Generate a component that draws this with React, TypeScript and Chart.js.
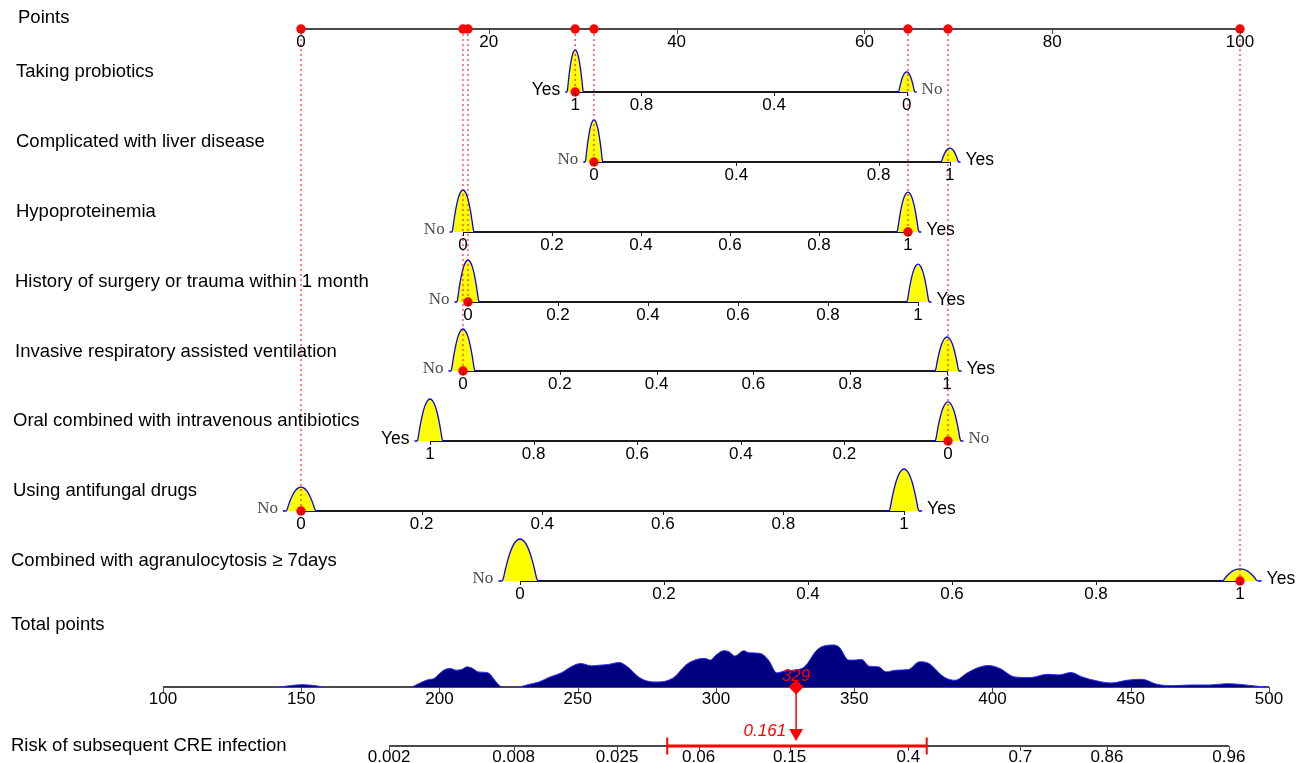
import React, { useEffect, useRef } from "react";
import { Chart, registerables } from "chart.js";

Chart.register(...registerables);

// ---------------- data ----------------
const POINT_TICKS = [0, 20, 40, 60, 80, 100];

const VARIABLES = [
  "Taking probiotics",
  "Complicated with liver disease",
  "Hypoproteinemia",
  "History of surgery or trauma within 1 month",
  "Invasive respiratory assisted ventilation",
  "Oral combined with intravenous antibiotics",
  "Using antifungal drugs",
  "Combined with agranulocytosis \u2265 7days",
];
// points contributed by level 0 (No) and level 1 (Yes)
const POINTS_AT_0 = [64.5, 31.2, 17.25, 17.78, 17.25, 68.9, 0, 23.32];
const POINTS_AT_1 = [29.2, 69.1, 64.64, 65.71, 68.8, 13.74, 64.22, 100];
const VAR_TICKS = [
  [1, 0.8, 0.4, 0],
  [0, 0.4, 0.8, 1],
  [0, 0.2, 0.4, 0.6, 0.8, 1],
  [0, 0.2, 0.4, 0.6, 0.8, 1],
  [0, 0.2, 0.4, 0.6, 0.8, 1],
  [1, 0.8, 0.6, 0.4, 0.2, 0],
  [0, 0.2, 0.4, 0.6, 0.8, 1],
  [0, 0.2, 0.4, 0.6, 0.8, 1],
];
const LEVEL_NAMES = ["No", "Yes"];
const SELECTED = [1, 0, 1, 0, 0, 0, 0, 1];
// relative density height of each level
const DENSITY_0 = [0.48, 1, 1, 1, 1, 0.93, 0.57, 1];
const DENSITY_1 = [1, 0.33, 0.95, 0.9, 0.81, 1, 1, 0.29];

const TOTAL_TICKS = [100, 150, 200, 250, 300, 350, 400, 450, 500];
const TOTAL_T = [
  142, 146, 150, 154, 158,
  190, 193, 196, 198, 200, 202, 204, 206, 208, 210, 212, 214, 216, 218, 220, 222, 223,
  229, 232, 236, 240, 244, 248, 251, 255, 258, 261, 265, 268, 272, 275, 279, 282, 285, 289,
  293, 296, 298, 300, 302.7, 304.7, 306.8, 310, 312, 316, 319, 322, 325, 328, 332, 336.5,
  339, 342.6, 344.6, 348, 350, 352.7, 355.4, 358.8, 361.5, 365, 369.6, 373.6, 377, 382.4,
  386.5, 390.5, 394.6, 398.6, 402.7, 408, 413.5, 420, 424, 428.4, 432.4, 437.8, 443, 448.6,
  454, 459.5, 465, 471.6, 478.4, 485, 490.5, 496, 499,
];
const TOTAL_D = [
  0, 4, 7, 5, 0,
  0, 12, 22, 25, 40, 52, 55, 50, 52, 60, 55, 45, 44, 40, 20, 2, 0,
  0, 7, 15, 30, 42, 62, 70, 63, 65, 67, 73, 60, 30, 18, 15, 18, 30, 65,
  82, 85, 80, 95, 108, 105, 92, 108, 102, 100, 80, 42, 48, 50, 60, 110,
  122, 125, 118, 80, 80, 82, 62, 60, 45, 50, 52, 75, 70, 30,
  20, 40, 57, 64, 55, 30, 28, 38, 36, 43, 30, 18, 12, 20,
  23, 8, 4, 6, 6, 10, 7, 2, 0,
];
const TOTAL_D_MAX = 125;

const RISK_TICKS = [0.002, 0.008, 0.025, 0.06, 0.15, 0.4, 0.7, 0.86, 0.96];
const RISK_TICK_LABELS = ["0.002", "0.008", "0.025", "0.06", "0.15", "0.4", "0.7", "0.86", "0.96"];
const PRED_RISK_LABEL = "0.161";
const CI_LOW = 0.043;
const CI_HIGH = 0.45;
// total points = RISK_A + RISK_B * logit(risk)
const RISK_A = 382.7;
const RISK_B = 32.34;

// ---------------- layout ----------------
const W = 1309;
const H = 763;
const POINTS_Y = 29;
const ROW_Y = [92, 162, 232, 302, 371, 441, 511, 581];
const TOTAL_Y = 687;
const RISK_Y = 746;
const LABEL_Y = [18, 72, 142, 212, 282, 352, 421, 491, 561, 625, 746];
const LABEL_X = [18, 16, 16, 16, 15, 15, 13, 13, 11, 11, 11];
const BUMP_PX = 42;
const TOTAL_PX = 42;
const BUMP_OFFSETS = [-0.03, -0.025, -0.023, -0.021, -0.018, -0.014, -0.01, -0.005, 0, 0.005, 0.01, 0.014, 0.018, 0.021, 0.023, 0.025, 0.03];
const BUMP_SHAPE = [0, 0, 0.07, 0.22, 0.43, 0.66, 0.83, 0.957, 1, 0.957, 0.83, 0.66, 0.43, 0.22, 0.07, 0, 0];
const BUMP_TAIL = 0.03;

const SANS = '"Liberation Sans", Arial, sans-serif';
const SERIF = '"Liberation Serif", "Times New Roman", serif';

const logit = (p: number) => Math.log(p / (1 - p));
const riskToTotal = (p: number) => RISK_A + RISK_B * logit(p);

const selectedPoints = SELECTED.map((l, i) => (l ? POINTS_AT_1[i] : POINTS_AT_0[i]));
const TOTAL_SCORE = selectedPoints.reduce((a, b) => a + b, 0);

function buildDatasets() {
  const ds: any[] = [];
  const line = (data: any[], color: string, width: number, extra: any = {}) => ({
    type: "line",
    data,
    borderColor: color,
    borderWidth: width,
    pointRadius: 0,
    fill: false,
    tension: 0,
    clip: false,
    order: 3,
    ...extra,
  });

  // points axis
  ds.push(line([{ x: 0, y: POINTS_Y }, { x: 100, y: POINTS_Y }], "#4a4a4a", 2));

  // variable rows
  VARIABLES.forEach((_, i) => {
    const p0 = POINTS_AT_0[i];
    const p1 = POINTS_AT_1[i];
    const y = ROW_Y[i];
    ds.push(line([{ x: Math.min(p0, p1), y }, { x: Math.max(p0, p1), y }], "#1a1a1a", 2));
    const span = Math.abs(p1 - p0);
    [0, 1].forEach((lvl) => {
      const c = lvl ? p1 : p0;
      const h = (lvl ? DENSITY_1[i] : DENSITY_0[i]) * BUMP_PX;
      const data = BUMP_OFFSETS.map((o, k) => ({ x: c + o * span, y: y - BUMP_SHAPE[k] * h }));
      ds.push(
        line(data, "#0000ff", 1.3, {
          backgroundColor: "#ffff00",
          fill: { value: y },
          cubicInterpolationMode: "monotone",
          order: 2,
        })
      );
    });
    // dotted guide
    ds.push(
      line([{ x: selectedPoints[i], y: POINTS_Y }, { x: selectedPoints[i], y }], "#ff0000", 1, {
        borderDash: [2, 3],
        order: 1,
      })
    );
  });

  // red dots
  const dots: any[] = [];
  selectedPoints.forEach((p, i) => {
    dots.push({ x: p, y: POINTS_Y });
    dots.push({ x: p, y: ROW_Y[i] });
  });
  ds.push({
    type: "line",
    data: dots,
    showLine: false,
    pointRadius: 4.7,
    pointBackgroundColor: "#ff0000",
    pointBorderColor: "#ff0000",
    pointBorderWidth: 0,
    clip: false,
    order: 0,
  });

  // total points axis + density
  ds.push(line([{ x: 100, y: TOTAL_Y }, { x: 500, y: TOTAL_Y }], "#4a4a4a", 2, { xAxisID: "xt" }));
  const segs: any[][] = [];
  let cur: any[] = [];
  TOTAL_T.forEach((t, i) => {
    if (cur.length && TOTAL_D[i] === 0 && TOTAL_D[i - 1] === 0) {
      segs.push(cur);
      cur = [];
    }
    cur.push({ x: t, y: TOTAL_Y - (TOTAL_D[i] / TOTAL_D_MAX) * TOTAL_PX });
  });
  segs.push(cur);
  segs.forEach((s) =>
    ds.push(
      line(s, "#2b2bff", 1, {
        xAxisID: "xt",
        backgroundColor: "#000080",
        fill: { value: TOTAL_Y },
        cubicInterpolationMode: "monotone",
        order: 2,
      })
    )
  );

  // risk axis
  const rMin = riskToTotal(RISK_TICKS[0]);
  const rMax = riskToTotal(RISK_TICKS[RISK_TICKS.length - 1]);
  ds.push(line([{ x: rMin, y: RISK_Y }, { x: rMax, y: RISK_Y }], "#4a4a4a", 2, { xAxisID: "xt" }));

  // confidence interval
  const ciData = [
    { x: riskToTotal(CI_LOW), y: RISK_Y },
    { x: riskToTotal(CI_HIGH), y: RISK_Y },
  ];
  ds.push(
    line(ciData, "#ff0000", 3, {
      xAxisID: "xt",
      order: 1,
      pointStyle: "line",
      rotation: 90,
      pointRadius: 8.5,
      pointBorderWidth: 2,
      pointBorderColor: "#ff0000",
    })
  );

  // prediction arrow
  ds.push(
    line([{ x: TOTAL_SCORE, y: TOTAL_Y }, { x: TOTAL_SCORE, y: RISK_Y - 14 }], "#ff0000", 1.5, {
      xAxisID: "xt",
      order: 1,
    })
  );
  ds.push({
    type: "line",
    xAxisID: "xt",
    data: [{ x: TOTAL_SCORE, y: TOTAL_Y }],
    showLine: false,
    pointStyle: "rectRot",
    pointRadius: 7.5,
    pointBackgroundColor: "#ff0000",
    pointBorderColor: "#ff0000",
    pointBorderWidth: 0,
    clip: false,
    order: 0,
  });
  ds.push({
    type: "line",
    xAxisID: "xt",
    data: [{ x: TOTAL_SCORE, y: RISK_Y - 13 }],
    showLine: false,
    pointStyle: "triangle",
    rotation: 180,
    pointRadius: 8,
    pointBackgroundColor: "#ff0000",
    pointBorderColor: "#ff0000",
    pointBorderWidth: 0,
    clip: false,
    order: 0,
  });
  return ds;
}

const fmt = (v: number) => String(v);

const textPlugin = {
  id: "nomogramText",
  afterDraw(chart: any) {
    const ctx = chart.ctx as CanvasRenderingContext2D;
    const sx = chart.scales.x;
    const st = chart.scales.xt;
    const sy = chart.scales.y;
    const X = (v: number) => sx.getPixelForValue(v);
    const XT = (v: number) => st.getPixelForValue(v);
    const Y = (v: number) => sy.getPixelForValue(v);
    ctx.save();
    ctx.textBaseline = "middle";

    // left labels
    const labels = ["Points", ...VARIABLES, "Total points", "Risk of subsequent CRE infection"];
    ctx.fillStyle = "#000";
    ctx.font = `18.5px ${SANS}`;
    ctx.textAlign = "left";
    labels.forEach((t, i) => ctx.fillText(t, LABEL_X[i], LABEL_Y[i]));

    const tick = (x: number, y: number, len: number, color: string) => {
      ctx.strokeStyle = color;
      ctx.lineWidth = 1;
      ctx.beginPath();
      ctx.moveTo(Math.round(x) + 0.5, y);
      ctx.lineTo(Math.round(x) + 0.5, y + len);
      ctx.stroke();
    };

    // points axis
    ctx.font = `17px ${SANS}`;
    ctx.textAlign = "center";
    POINT_TICKS.forEach((v) => {
      tick(X(v), Y(POINTS_Y), 5, "#4a4a4a");
      ctx.fillStyle = "#000";
      ctx.fillText(fmt(v), X(v), Y(POINTS_Y) + 13);
    });

    // variable rows
    VARIABLES.forEach((_, i) => {
      const p0 = POINTS_AT_0[i];
      const p1 = POINTS_AT_1[i];
      const y = Y(ROW_Y[i]);
      ctx.font = `17px ${SANS}`;
      ctx.textAlign = "center";
      VAR_TICKS[i].forEach((v) => {
        const px = X(p0 + (p1 - p0) * v);
        tick(px, y, 4, "#1a1a1a");
        ctx.fillStyle = "#000";
        ctx.fillText(fmt(v), px, y + 13);
      });
      const span = Math.abs(p1 - p0);
      const tail = BUMP_TAIL * span;
      [0, 1].forEach((lvl) => {
        const c = lvl ? p1 : p0;
        const other = lvl ? p0 : p1;
        const isLeft = c < other;
        const name = LEVEL_NAMES[lvl];
        if (name === "No") {
          ctx.font = `17px ${SERIF}`;
          ctx.fillStyle = "#4d4d4d";
        } else {
          ctx.font = `17.5px ${SANS}`;
          ctx.fillStyle = "#000";
        }
        if (isLeft) {
          ctx.textAlign = "right";
          ctx.fillText(name, X(c - tail) - 5, y - 2);
        } else {
          ctx.textAlign = "left";
          ctx.fillText(name, X(c + tail) + 5, y - 2);
        }
      });
    });

    // total points axis
    ctx.font = `17px ${SANS}`;
    ctx.textAlign = "center";
    ctx.fillStyle = "#000";
    TOTAL_TICKS.forEach((v) => {
      tick(XT(v), Y(TOTAL_Y), 5, "#4a4a4a");
      ctx.fillText(fmt(v), XT(v), Y(TOTAL_Y) + 12);
    });

    // risk axis
    RISK_TICKS.forEach((p, k) => {
      const px = XT(riskToTotal(p));
      tick(px, Y(RISK_Y), 5, "#4a4a4a");
      ctx.fillStyle = "#000";
      ctx.fillText(RISK_TICK_LABELS[k], px, Y(RISK_Y) + 11);
    });

    // prediction labels
    ctx.fillStyle = "#ff0000";
    ctx.font = `italic 17px ${SANS}`;
    ctx.textAlign = "center";
    ctx.fillText(String(Math.round(TOTAL_SCORE)), XT(TOTAL_SCORE), Y(TOTAL_Y) - 11);
    ctx.textAlign = "right";
    ctx.fillText(PRED_RISK_LABEL, XT(TOTAL_SCORE) - 10, Y(RISK_Y) - 15);
    ctx.restore();
  },
};

export default function App() {
  const ref = useRef<HTMLCanvasElement | null>(null);
  useEffect(() => {
    if (!ref.current) return;
    const ptsPerPx = 100 / (1240 - 301);
    const totPerPx = 400 / (1269 - 163);
    const chart = new Chart(ref.current, {
      type: "line",
      data: { datasets: buildDatasets() },
      options: {
        responsive: false,
        animation: false,
        devicePixelRatio: 1,
        events: [],
        layout: { padding: 0, autoPadding: false },
        plugins: { legend: { display: false }, tooltip: { enabled: false } },
        scales: {
          x: { type: "linear", display: false, min: -301 * ptsPerPx, max: (W - 301) * ptsPerPx },
          xt: { type: "linear", axis: "x", display: false, min: 100 - 163 * totPerPx, max: 100 + (W - 163) * totPerPx },
          y: { type: "linear", display: false, min: 0, max: H, reverse: true },
        },
      } as any,
      plugins: [textPlugin],
    });
    return () => chart.destroy();
  }, []);
  return (
    <div style={{ position: "absolute", left: 0, top: 0, width: W, height: H, background: "#fff" }}>
      <canvas ref={ref} width={W} height={H} />
    </div>
  );
}
